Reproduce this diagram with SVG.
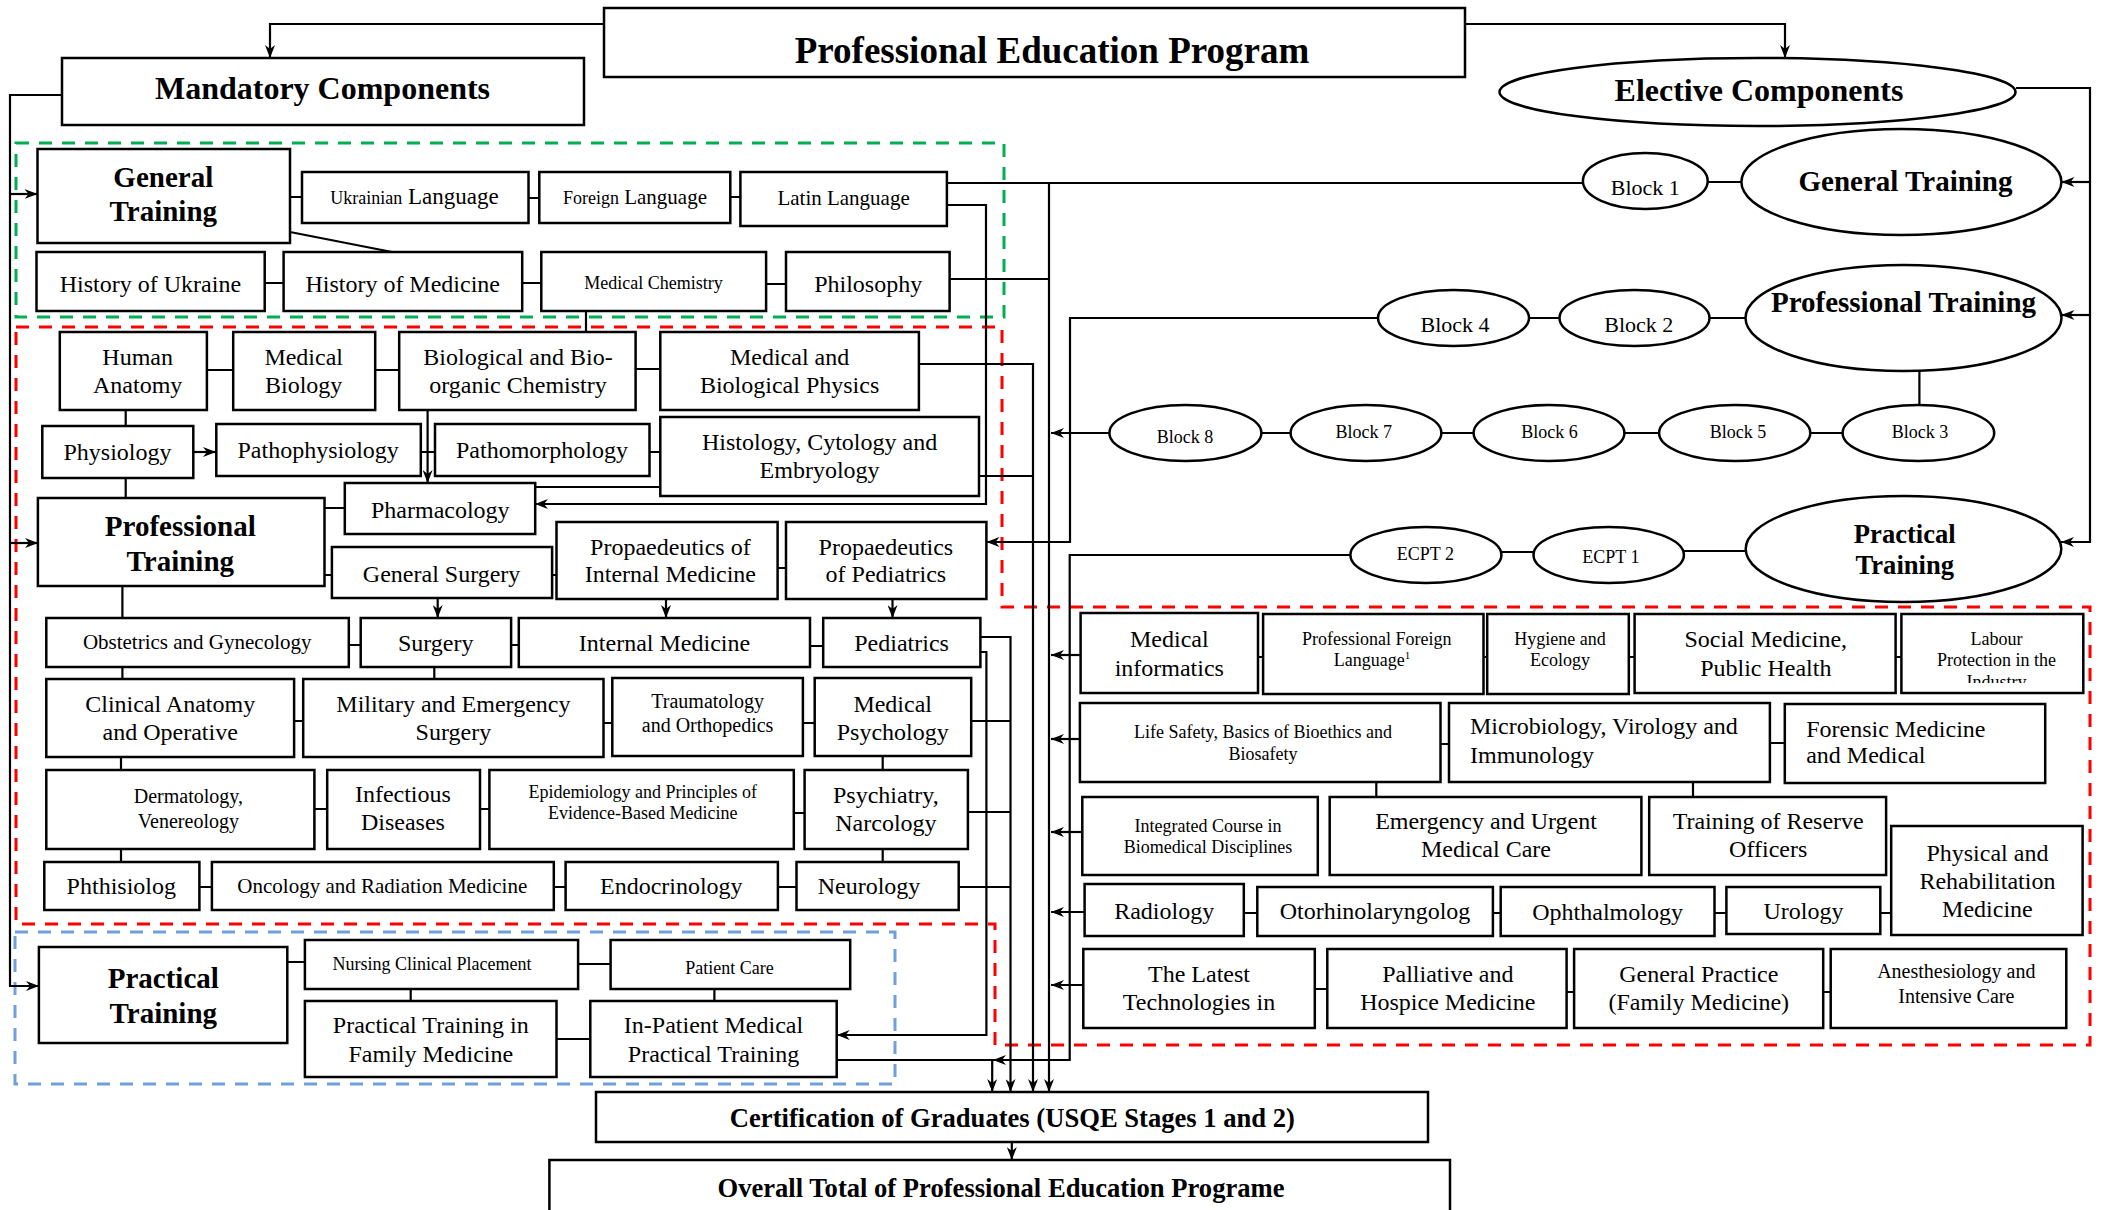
<svg xmlns="http://www.w3.org/2000/svg" width="2103" height="1210" viewBox="0 0 2103 1210">
<style>
.b{fill:#fff;stroke:#000;stroke-width:2.5}
.t{font-family:"Liberation Serif","Times New Roman",serif;text-anchor:middle;fill:#000}
.l{text-anchor:start}
.h{font-weight:bold}
.c{fill:none;stroke:#000;stroke-width:2.2}
.ca{fill:none;stroke:#000;stroke-width:2.2;marker-end:url(#a)}
.dg{fill:none;stroke:#00b050;stroke-width:3;stroke-dasharray:13 10}
.dr{fill:none;stroke:#ff0000;stroke-width:3;stroke-dasharray:13 10}
.db{fill:none;stroke:#6f9fdc;stroke-width:3;stroke-dasharray:13 10}
</style>
<defs>
<marker id="a" viewBox="0 0 13 10" refX="13" refY="5" markerWidth="13" markerHeight="10" markerUnits="userSpaceOnUse" orient="auto"><path d="M0,0 L13,5 L0,10 L4,5 Z" fill="#000"/></marker>
<clipPath id="clipLab"><rect x="1901" y="614" width="182" height="69"/></clipPath>
</defs>
<rect width="2103" height="1210" fill="#fff"/>

<g id="regions">
<rect class="dg" x="16" y="143" width="988" height="174"/>
<path class="dr" d="M16,327 H1002 V607 H2090 V1045 H995 V924 H16 Z"/>
<rect class="db" x="15" y="932" width="880" height="152"/>
</g>

<g id="connectors">
<path class="ca" d="M604,24 H270 V58"/>
<path class="ca" d="M1465,24 H1785 V58"/>
<path class="ca" d="M62,95 H10 V986 H39"/>
<path class="ca" d="M10,194 H37.5"/>
<path class="ca" d="M10,543 H38"/>
<path class="ca" d="M2016,88 H2090 V542 H2061"/>
<path class="ca" d="M2090,182 H2061.5"/>
<path class="ca" d="M2090,315 H2061.5"/>
<path class="c" d="M290,197 H302 M528.5,198 H539 M730,197 H740 M290,232 L392,252 M264.5,283 H283.5 M522,283 H541 M766,284 H786 M586,311 V332"/>
<path class="c" d="M947,183 H1583"/>
<path class="ca" d="M947,205 H986 V504 H535"/>
<path class="c" d="M949.5,279 H1049"/>
<path class="ca" d="M1049,183 V1092"/>
<path class="c" d="M207,370 H233 M375,370 H399 M635.5,369 H660"/>
<path class="ca" d="M919,364 H1033 V1092"/>
<path class="c" d="M125.7,410 V426 M421,452 H435 M649.5,452 H660 M979,476 H1033 M535,487 H660 M125.7,478 V498 M324.5,508 H345 M324.5,575 H332 M552,575 H556.5 M777.5,568 H786"/>
<path class="ca" d="M193,452 H216"/>
<path class="ca" d="M427.6,410 V483"/>
<path class="ca" d="M1378,318 H1070 V542 H986.5"/>
<path class="c" d="M122.4,586 V618 M349,645 H361 M511,645 H519 M810,646 H823"/>
<path class="ca" d="M437.7,598 V618"/>
<path class="ca" d="M666,599 V618"/>
<path class="ca" d="M892.5,599 V618"/>
<path class="ca" d="M980.5,637 H1010.5 V1092"/>
<path class="ca" d="M980.5,652 H986.4 V1035 H836.7"/>
<path class="c" d="M122.4,667 V679 M434.3,667 V679 M294,721 H303 M603.5,723 H612 M803,723 H815 M971,721 H1010.5"/>
<path class="c" d="M121,757 V770 M882.7,756 V770 M314.4,809 H327 M480,809 H489.4 M793.8,813 H804.6 M968,812 H1010.5"/>
<path class="c" d="M121,849 V862 M882.7,849 V862 M199.4,887 H212 M553.8,887 H565.6 M778,887 H796.5 M958.7,887 H1010.5"/>
<path class="c" d="M287.3,962 H305 M578,964 H610.6 M410.7,989 V1001 M714.4,989 V1001 M556.5,1039 H590.3"/>
<path class="ca" d="M836.7,1060 H992.2 V1092"/>
<path class="ca" d="M1350,555 H1069.7 V1060 H993"/>
<path class="ca" d="M1011.8,1142 V1160"/>
<path class="c" d="M1707.7,182 H1741.3 M1529,318 H1559.5 M1709.4,318 H1745.4 M1919.4,371 V405"/>
<path class="c" d="M1261.4,433 H1290.8 M1441.6,433 H1473.7 M1624.4,433 H1659 M1810.3,433 H1842.6"/>
<path class="ca" d="M1109.3,433 H1051"/>
<path class="c" d="M1684,551 H1745.7 M1501.4,552 H1533.5"/>
<path class="ca" d="M1080.6,655 H1051"/>
<path class="c" d="M1258,657 H1263 M1483.5,657 H1487 M1628.8,657 H1634.6 M1895.6,657 H1901.4"/>
<path class="ca" d="M1080,739 H1051"/>
<path class="c" d="M1440.5,744 H1449 M1770,743 H1784.8 M1376.3,782 V797 M1693,782 V797"/>
<path class="ca" d="M1082.3,832 H1051"/>
<path class="ca" d="M1084.6,912 H1051"/>
<path class="c" d="M1243.8,913 H1257.3 M1493,913 H1500.7 M1714.5,913 H1726.4 M1880.3,913 H1891.2"/>
<path class="ca" d="M1083.3,985 H1051"/>
<path class="c" d="M1314.8,989 H1327.3 M1566.6,992 H1574 M1823.2,992 H1830.7"/>
</g>

<g id="pep"><rect class="b" x="604" y="8" width="861" height="69"/><text class="t h" x="1052" y="63" font-size="37">Professional Education Program</text></g>
<g id="mandatory"><rect class="b" x="62" y="58" width="522" height="67"/><text class="t h" x="322.5" y="99" font-size="32">Mandatory Components</text></g>
<g id="elective"><ellipse class="b" cx="1757.5" cy="92" rx="258" ry="34"/><text class="t h" x="1759" y="101" font-size="32">Elective Components</text></g>

<g id="m-general"><rect class="b" x="37.5" y="149" width="252.5" height="94"/><text class="t h" font-size="29"><tspan x="163.3" y="187">General</tspan><tspan x="163.3" y="221">Training</tspan></text></g>
<g id="ukrainian"><rect class="b" x="302" y="172" width="226.5" height="51"/><text class="t" x="414.4" y="204"><tspan font-size="18">Ukrainian</tspan><tspan font-size="23"> Language</tspan></text></g>
<g id="foreign"><rect class="b" x="539.3" y="172" width="191" height="51"/><text class="t" x="635" y="204"><tspan font-size="18">Foreign</tspan><tspan font-size="21"> Language</tspan></text></g>
<g id="latin"><rect class="b" x="740.4" y="172" width="206.5" height="54"/><text class="t" x="843.6" y="205" font-size="21">Latin Language</text></g>
<g id="hist-ukr"><rect class="b" x="36.5" y="252" width="228.2" height="59"/><text class="t" x="150.4" y="292" font-size="24">History of Ukraine</text></g>
<g id="hist-med"><rect class="b" x="283.6" y="252" width="238.6" height="59"/><text class="t" x="402.7" y="292" font-size="24">History of Medicine</text></g>
<g id="med-chem"><rect class="b" x="541.3" y="252" width="224.8" height="59"/><text class="t" x="653.5" y="289" font-size="18">Medical Chemistry</text></g>
<g id="philosophy"><rect class="b" x="786" y="252" width="163.6" height="59"/><text class="t" x="868.2" y="292" font-size="24">Philosophy</text></g>

<g id="human-anatomy"><rect class="b" x="59.8" y="332" width="147.1" height="78"/><text class="t" font-size="24"><tspan x="137.7" y="365">Human</tspan><tspan x="137.7" y="393">Anatomy</tspan></text></g>
<g id="med-bio"><rect class="b" x="233.2" y="332" width="142" height="78"/><text class="t" font-size="24"><tspan x="303.7" y="365">Medical</tspan><tspan x="303.7" y="393">Biology</tspan></text></g>
<g id="bbc"><rect class="b" x="399.2" y="332" width="236.4" height="78"/><text class="t" font-size="24"><tspan x="518" y="365">Biological and Bio-</tspan><tspan x="518" y="393">organic Chemistry</tspan></text></g>
<g id="mbp"><rect class="b" x="660.3" y="332" width="258.6" height="78"/><text class="t" font-size="24"><tspan x="789.6" y="365">Medical and</tspan><tspan x="789.6" y="393">Biological Physics</tspan></text></g>
<g id="physiology"><rect class="b" x="42.3" y="426" width="151" height="52"/><text class="t" x="117.5" y="460" font-size="24">Physiology</text></g>
<g id="pathophys"><rect class="b" x="216.3" y="424" width="204.5" height="52"/><text class="t" x="318.2" y="458" font-size="24">Pathophysiology</text></g>
<g id="pathomorph"><rect class="b" x="435" y="424" width="214.5" height="52"/><text class="t" x="542" y="458" font-size="24">Pathomorphology</text></g>
<g id="histology"><rect class="b" x="660.3" y="417" width="318.7" height="79"/><text class="t" font-size="24"><tspan x="819.6" y="450">Histology, Cytology and</tspan><tspan x="819.6" y="478">Embryology</tspan></text></g>
<g id="pharmacology"><rect class="b" x="344.8" y="483" width="190.4" height="51"/><text class="t" x="440.3" y="518" font-size="24">Pharmacology</text></g>
<g id="m-professional"><rect class="b" x="37.9" y="498" width="286.6" height="88"/><text class="t h" font-size="29"><tspan x="180.3" y="536">Professional</tspan><tspan x="180.3" y="571">Training</tspan></text></g>
<g id="gen-surgery"><rect class="b" x="331.9" y="547" width="220.2" height="51"/><text class="t" x="441.6" y="582" font-size="24">General Surgery</text></g>
<g id="prop-im"><rect class="b" x="556.5" y="522" width="221.1" height="77"/><text class="t" font-size="24"><tspan x="670.4" y="555">Propaedeutics of</tspan><tspan x="670.4" y="582">Internal Medicine</tspan></text></g>
<g id="prop-ped"><rect class="b" x="786" y="522" width="200.4" height="77"/><text class="t" font-size="24"><tspan x="885.9" y="555">Propaedeutics</tspan><tspan x="885.9" y="582">of Pediatrics</tspan></text></g>
<g id="obgyn"><rect class="b" x="46.3" y="618" width="302.5" height="49"/><text class="t" x="197.2" y="649" font-size="21">Obstetrics and Gynecology</text></g>
<g id="surgery"><rect class="b" x="360.7" y="618" width="150.4" height="49"/><text class="t" x="435.7" y="651" font-size="24">Surgery</text></g>
<g id="int-med"><rect class="b" x="518.8" y="618" width="291.2" height="49"/><text class="t" x="664.5" y="651" font-size="24">Internal Medicine</text></g>
<g id="pediatrics"><rect class="b" x="823.2" y="618" width="157.2" height="49"/><text class="t" x="901.6" y="651" font-size="24">Pediatrics</text></g>
<g id="clin-anat"><rect class="b" x="46.3" y="679" width="247.8" height="78"/><text class="t" font-size="24"><tspan x="170.2" y="712">Clinical Anatomy</tspan><tspan x="170.2" y="740">and Operative</tspan></text></g>
<g id="mil-surg"><rect class="b" x="303.2" y="679" width="300.3" height="78"/><text class="t" font-size="24"><tspan x="453.4" y="712">Military and Emergency</tspan><tspan x="453.4" y="740">Surgery</tspan></text></g>
<g id="trauma"><rect class="b" x="612.3" y="678" width="190.6" height="78"/><text class="t" font-size="20"><tspan x="707.6" y="708">Traumatology</tspan><tspan x="707.6" y="732">and Orthopedics</tspan></text></g>
<g id="med-psych"><rect class="b" x="814.7" y="678" width="156.5" height="78"/><text class="t" font-size="24"><tspan x="892.7" y="712">Medical</tspan><tspan x="892.7" y="740">Psychology</tspan></text></g>
<g id="derm"><rect class="b" x="46.3" y="770" width="268.1" height="79"/><text class="t" font-size="20"><tspan x="188.4" y="803">Dermatology,</tspan><tspan x="188.4" y="828">Venereology</tspan></text></g>
<g id="infect"><rect class="b" x="327.2" y="770" width="152.8" height="79"/><text class="t" font-size="24"><tspan x="402.9" y="802">Infectious</tspan><tspan x="402.9" y="830">Diseases</tspan></text></g>
<g id="epi"><rect class="b" x="489.4" y="770" width="304.4" height="79"/><text class="t" font-size="18"><tspan x="642.7" y="798">Epidemiology and Principles of</tspan><tspan x="642.7" y="819">Evidence-Based Medicine</tspan></text></g>
<g id="psychiatry"><rect class="b" x="804.6" y="770" width="163.3" height="79"/><text class="t" font-size="24"><tspan x="885.9" y="803">Psychiatry,</tspan><tspan x="885.9" y="831">Narcology</tspan></text></g>
<g id="phthisio"><rect class="b" x="44.3" y="862" width="155.1" height="48"/><text class="t" x="121.3" y="894" font-size="24">Phthisiolog</text></g>
<g id="oncology"><rect class="b" x="211.9" y="862" width="341.9" height="48"/><text class="t" x="382.3" y="893" font-size="21">Oncology and Radiation Medicine</text></g>
<g id="endocrin"><rect class="b" x="565.6" y="862" width="212.3" height="48"/><text class="t" x="671.3" y="894" font-size="24">Endocrinology</text></g>
<g id="neurology"><rect class="b" x="796.5" y="862" width="162.2" height="48"/><text class="t" x="869" y="894" font-size="24">Neurology</text></g>

<g id="m-practical"><rect class="b" x="38.9" y="947" width="248.4" height="96"/><text class="t h" font-size="29"><tspan x="163.3" y="988">Practical</tspan><tspan x="163.3" y="1023">Training</tspan></text></g>
<g id="nursing"><rect class="b" x="304.9" y="940" width="273.2" height="49"/><text class="t" x="432" y="970" font-size="18">Nursing Clinical Placement</text></g>
<g id="patient-care"><rect class="b" x="610.6" y="940" width="239.6" height="49"/><text class="t" x="729.4" y="974" font-size="18">Patient Care</text></g>
<g id="pt-family"><rect class="b" x="304.9" y="1001" width="251.6" height="76"/><text class="t" font-size="24"><tspan x="430.8" y="1033">Practical Training in</tspan><tspan x="430.8" y="1062">Family Medicine</tspan></text></g>
<g id="inpatient"><rect class="b" x="590.3" y="1001" width="246.4" height="76"/><text class="t" font-size="24"><tspan x="713.5" y="1033">In-Patient Medical</tspan><tspan x="713.5" y="1062">Practical Training</tspan></text></g>

<g id="certification"><rect class="b" x="596" y="1092" width="832" height="50"/><text class="t h" x="1012.4" y="1127" font-size="26.6">Certification of Graduates (USQE Stages 1 and 2)</text></g>
<g id="overall"><rect class="b" x="549.4" y="1160" width="900.6" height="62"/><text class="t h" x="1001" y="1197" font-size="26.6">Overall Total of Professional Education Programe</text></g>

<g id="block1"><ellipse class="b" cx="1645.3" cy="181" rx="62.4" ry="28"/><text class="t" x="1645.3" y="195" font-size="22">Block 1</text></g>
<g id="e-general"><ellipse class="b" cx="1901.4" cy="182" rx="160" ry="53"/><text class="t h" x="1905.5" y="191" font-size="29">General Training</text></g>
<g id="block4"><ellipse class="b" cx="1453.5" cy="318" rx="75.5" ry="28"/><text class="t" x="1455" y="332" font-size="22">Block 4</text></g>
<g id="block2"><ellipse class="b" cx="1634.5" cy="318" rx="75" ry="28"/><text class="t" x="1638.8" y="332" font-size="22">Block 2</text></g>
<g id="e-professional"><ellipse class="b" cx="1903.5" cy="318" rx="158" ry="53"/><text class="t h" x="1903.5" y="312" font-size="29">Professional Training</text></g>
<g id="block8"><ellipse class="b" cx="1185.4" cy="433" rx="76" ry="28"/><text class="t" x="1185" y="443" font-size="18">Block 8</text></g>
<g id="block7"><ellipse class="b" cx="1366" cy="433" rx="75.4" ry="28"/><text class="t" x="1363.8" y="438" font-size="18">Block 7</text></g>
<g id="block6"><ellipse class="b" cx="1549" cy="433" rx="75.4" ry="28"/><text class="t" x="1549.5" y="438" font-size="18">Block 6</text></g>
<g id="block5"><ellipse class="b" cx="1734.7" cy="433" rx="75.6" ry="28"/><text class="t" x="1738" y="438" font-size="18">Block 5</text></g>
<g id="block3"><ellipse class="b" cx="1918.4" cy="433" rx="75.8" ry="28"/><text class="t" x="1920" y="438" font-size="18">Block 3</text></g>
<g id="ecpt2"><ellipse class="b" cx="1425.9" cy="555" rx="75.5" ry="28"/><text class="t" x="1425.3" y="560" font-size="18">ECPT 2</text></g>
<g id="ecpt1"><ellipse class="b" cx="1608.7" cy="555" rx="75.2" ry="28"/><text class="t" x="1610.8" y="563" font-size="18">ECPT 1</text></g>
<g id="e-practical"><ellipse class="b" cx="1903.5" cy="549" rx="157.8" ry="53"/><text class="t h" font-size="26.6"><tspan x="1904.8" y="543">Practical</tspan><tspan x="1904.8" y="574">Training</tspan></text></g>

<g id="med-inf"><rect class="b" x="1080.6" y="613" width="177.4" height="80"/><text class="t" font-size="24"><tspan x="1169.3" y="647">Medical</tspan><tspan x="1169.3" y="676">informatics</tspan></text></g>
<g id="prof-foreign"><rect class="b" x="1263.1" y="614" width="220.4" height="80"/><text class="t" font-size="18"><tspan x="1376.7" y="645">Professional Foreign</tspan><tspan x="1372" y="666">Language<tspan font-size="11" dy="-7">1</tspan></tspan></text></g>
<g id="hygiene"><rect class="b" x="1487.2" y="614" width="141.6" height="80"/><text class="t" font-size="18"><tspan x="1560" y="645">Hygiene and</tspan><tspan x="1560" y="666">Ecology</tspan></text></g>
<g id="social-med"><rect class="b" x="1634.6" y="614" width="261" height="79"/><text class="t" font-size="24"><tspan x="1765.8" y="647">Social Medicine,</tspan><tspan x="1765.8" y="676">Public Health</tspan></text></g>
<g id="labour"><rect class="b" x="1901.4" y="614" width="181.9" height="79"/><text class="t" font-size="18" clip-path="url(#clipLab)"><tspan x="1996.5" y="645">Labour</tspan><tspan x="1996.5" y="666">Protection in the</tspan><tspan x="1996.5" y="688">Industry</tspan></text></g>
<g id="life-safety"><rect class="b" x="1079.9" y="703" width="360.6" height="79"/><text class="t" font-size="18"><tspan x="1263" y="738">Life Safety, Basics of Bioethics and</tspan><tspan x="1263" y="760">Biosafety</tspan></text></g>
<g id="microbio"><rect class="b" x="1449" y="703" width="320.9" height="79"/><text class="t l" font-size="24"><tspan x="1470" y="734">Microbiology, Virology and</tspan><tspan x="1470" y="763">Immunology</tspan></text></g>
<g id="forensic"><rect class="b" x="1784.8" y="704" width="260.4" height="79"/><text class="t l" font-size="24"><tspan x="1806.2" y="737">Forensic Medicine</tspan><tspan x="1806.2" y="763">and Medical</tspan></text></g>
<g id="integrated"><rect class="b" x="1082.3" y="797" width="235.5" height="78"/><text class="t" font-size="18"><tspan x="1208" y="832">Integrated Course in</tspan><tspan x="1208" y="853">Biomedical Disciplines</tspan></text></g>
<g id="emergency"><rect class="b" x="1329.7" y="797" width="311.7" height="78"/><text class="t" font-size="24"><tspan x="1486" y="829">Emergency and Urgent</tspan><tspan x="1486" y="857">Medical Care</tspan></text></g>
<g id="reserve"><rect class="b" x="1649.2" y="797" width="236.9" height="78"/><text class="t" font-size="24"><tspan x="1768.2" y="829">Training of Reserve</tspan><tspan x="1768.2" y="857">Officers</tspan></text></g>
<g id="physical"><rect class="b" x="1891.2" y="826" width="191.4" height="109"/><text class="t" font-size="24"><tspan x="1987.4" y="861">Physical and</tspan><tspan x="1987.4" y="889">Rehabilitation</tspan><tspan x="1987.4" y="917">Medicine</tspan></text></g>
<g id="radiology"><rect class="b" x="1084.6" y="884" width="159.2" height="52"/><text class="t" x="1164.2" y="919" font-size="24">Radiology</text></g>
<g id="oto"><rect class="b" x="1257.3" y="887" width="235.6" height="49"/><text class="t" x="1375" y="919" font-size="24">Otorhinolaryngolog</text></g>
<g id="ophthal"><rect class="b" x="1500.7" y="887" width="213.8" height="49"/><text class="t" x="1607.6" y="920" font-size="24">Ophthalmology</text></g>
<g id="urology"><rect class="b" x="1726.4" y="887" width="153.9" height="47"/><text class="t" x="1803.5" y="919" font-size="24">Urology</text></g>
<g id="latest"><rect class="b" x="1083.3" y="949" width="231.5" height="79"/><text class="t" font-size="24"><tspan x="1199" y="982">The Latest</tspan><tspan x="1199" y="1010">Technologies in</tspan></text></g>
<g id="palliative"><rect class="b" x="1327.3" y="949" width="239.3" height="79"/><text class="t" font-size="24"><tspan x="1447.8" y="982">Palliative and</tspan><tspan x="1447.8" y="1010">Hospice Medicine</tspan></text></g>
<g id="gen-practice"><rect class="b" x="1574.1" y="949" width="249.1" height="79"/><text class="t" font-size="24"><tspan x="1698.8" y="982">General Practice</tspan><tspan x="1698.8" y="1010">(Family Medicine)</tspan></text></g>
<g id="anesthesio"><rect class="b" x="1830.7" y="949" width="235.6" height="79"/><text class="t" font-size="20"><tspan x="1956.3" y="978">Anesthesiology and</tspan><tspan x="1956.3" y="1003">Intensive Care</tspan></text></g>
</svg>
